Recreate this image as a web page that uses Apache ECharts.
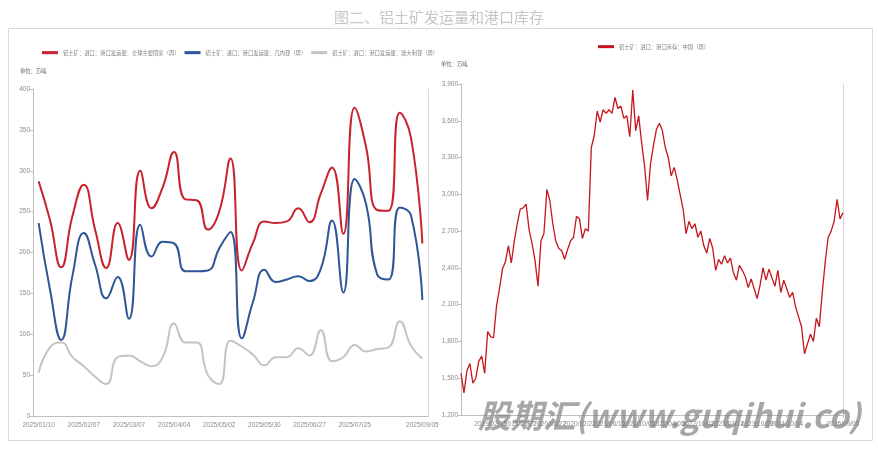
<!DOCTYPE html>
<html><head><meta charset="utf-8">
<script src="https://cdn.jsdelivr.net/npm/echarts@6/dist/echarts.min.js"></script>
<style>html,body{margin:0;padding:0;background:#fff}#c{width:878px;height:451px}</style>
</head><body><div id="c"></div>
<script>
// ---- data ----
const leftCategories = ['2025/01/10','2025/01/17','2025/01/24','2025/01/31','2025/02/07','2025/02/14','2025/02/21','2025/02/28',
  '2025/03/07','2025/03/14','2025/03/21','2025/03/28','2025/04/04','2025/04/11','2025/04/18','2025/04/25',
  '2025/05/02','2025/05/09','2025/05/16','2025/05/23','2025/05/30','2025/06/06','2025/06/13','2025/06/20',
  '2025/06/27','2025/07/04','2025/07/11','2025/07/18','2025/07/25','2025/08/01','2025/08/08','2025/08/15',
  '2025/08/22','2025/08/29','2025/09/05'];
const globalShip = [287,240,182,245,283,228,181,236,191,300,254,280,323,265,264,228,250,315,178,212,238,236,238,254,237,272,304,223,377,330,252,251,371,340,211];
const guineaShip = [236,155,93,172,224,185,144,170,119,234,195,213,211,177,177,178,205,225,95,140,179,164,167,171,165,180,239,151,290,260,173,167,255,245,142];
const australiaShip = [53,84,90,72,61,48,39,72,74,67,61,72,113,90,90,50,39,92,85,75,62,72,72,83,74,105,67,72,87,79,82,84,116,86,70];

const rightTickLabels = ['2018/01/26','2019/02/15','2019/09/27','2020/06/22','2020/12/22','2021/06/15','2021/10/05',
  '2022/04/05','2022/10/02','2023/03/14','2023/10/09','2024/10/04','2025/09/05'];
const chinaPortStock = [
  1540,1380,1560,1620,1460,1500,1640,1680,1540,1880,
  1840,1830,2090,2230,2390,2450,2580,2440,2620,2760,
  2880,2890,2920,2710,2600,2460,2250,2620,2680,3040,
  2950,2760,2620,2560,2540,2470,2550,2620,2650,2820,
  2800,2640,2720,2700,3380,3480,3680,3590,3690,3660,
  3690,3660,3790,3700,3720,3620,3640,3470,3850,3520,
  3640,3420,3230,2950,3250,3400,3530,3580,3520,3380,
  3300,3150,3220,3120,3000,2880,2680,2780,2720,2760,
  2650,2700,2580,2520,2640,2560,2380,2470,2430,2500,
  2440,2480,2360,2300,2420,2380,2330,2240,2310,2230,
  2150,2260,2400,2300,2390,2320,2250,2380,2200,2300,
  2230,2160,2200,2080,2000,1920,1700,1780,1860,1800,
  1990,1920,2200,2450,2650,2700,2780,2960,2800,2850];

const names = ['铝土矿：进口：港口发运量：全球主要国家（周）','铝土矿：进口：港口发运量：几内亚（周）','铝土矿：进口：港口发运量：澳大利亚（周）'];
const rightName = '铝土矿：进口：港口库存：中国（周）';

// ---- styling ----
const NARROW = "'Liberation Sans Narrow','Liberation Sans',Arial,sans-serif";
const CJK = "'Noto Sans CJK SC','Noto Sans',sans-serif";
const axisGray = '#bfbfbf';
const labelGray = '#8c8c8c';
const RED = '#c8232c', BLUE = '#2d5597', GRAY = '#c4c4c4', RRED = '#c4161c';

const RSTEP = 10;
const lastR = chinaPortStock.length - 1;
const rightLabelAt = {};
rightTickLabels.forEach((t, j) => {
  const idx = j < rightTickLabels.length - 1 ? j * RSTEP : lastR;
  rightLabelAt[idx] = t;
});
const rightCategories = chinaPortStock.map((_, i) => String(i));

const chart = echarts.init(document.getElementById('c'), null, {renderer: 'canvas'});
const legendText = {fontSize: 5.3, color: '#7f7f7f', fontFamily: CJK};
const lineSeries = (name, data, color) => ({
  name, type: 'line', xAxisIndex: 0, yAxisIndex: 0, data, smooth: 0.5,
  showSymbol: false, symbol: 'none', lineStyle: {width: 2, color}, itemStyle: {color}
});
chart.setOption({
  animation: false,
  backgroundColor: '#fff',
  title: {text: '图二、铝土矿发运量和港口库存', left: 'center', top: 5,
    textStyle: {color: '#c6c6c6', fontSize: 15, fontWeight: 'normal', fontFamily: CJK}},
  legend: [
    {data: names, left: 37, top: 45, itemWidth: 16, itemHeight: 3, icon: 'rect', itemGap: 5, textStyle: legendText},
    {data: [rightName], left: 593, top: 39, itemWidth: 16, itemHeight: 3, icon: 'rect', textStyle: legendText}
  ],
  grid: [
    {left: 33, right: 450, top: 89, bottom: 35},
    {left: 461, right: 35, top: 84, bottom: 36}
  ],
  xAxis: [
    {type: 'category', gridIndex: 0, data: leftCategories, boundaryGap: true,
      axisLine: {lineStyle: {color: axisGray}},
      axisTick: {interval: (i) => i % 4 === 0, length: 3, lineStyle: {color: axisGray}},
      axisLabel: {interval: (i) => (i % 4 === 0 && i < 32) || i === leftCategories.length - 1,
        fontSize: 6.5, color: labelGray, fontFamily: NARROW, margin: 6}},
    {type: 'category', gridIndex: 1, data: rightCategories, boundaryGap: false,
      axisLine: {lineStyle: {color: axisGray}},
      axisTick: {interval: (i) => i % RSTEP === 0 || i === lastR, length: 3, lineStyle: {color: axisGray}},
      axisLabel: {interval: (i) => rightLabelAt[i] !== undefined, formatter: (v, i) => rightLabelAt[i] || '',
        fontSize: 6.5, color: labelGray, fontFamily: NARROW, margin: 6}}
  ],
  yAxis: [
    {type: 'value', gridIndex: 0, min: 0, max: 400, interval: 50,
      axisLine: {show: true, lineStyle: {color: axisGray}}, axisTick: {show: true, length: 3, lineStyle: {color: axisGray}},
      splitLine: {show: false}, axisLabel: {fontSize: 6.5, color: labelGray, fontFamily: NARROW, margin: 3}},
    {type: 'value', gridIndex: 0, position: 'right', min: 0, max: 400,
      axisLine: {show: true, lineStyle: {color: '#d9d9d9'}}, axisTick: {show: false}, axisLabel: {show: false}, splitLine: {show: false}},
    {type: 'value', gridIndex: 1, min: 1200, max: 3900, interval: 300,
      axisLine: {show: true, lineStyle: {color: axisGray}}, axisTick: {show: true, length: 3, lineStyle: {color: axisGray}},
      splitLine: {show: false}, axisLabel: {fontSize: 6.5, color: labelGray, fontFamily: NARROW, margin: 3,
        formatter: (v) => v.toLocaleString('en-US')}},
    {type: 'value', gridIndex: 1, position: 'right', min: 1200, max: 3900,
      axisLine: {show: true, lineStyle: {color: '#d9d9d9'}}, axisTick: {show: false}, axisLabel: {show: false}, splitLine: {show: false}}
  ],
  series: [
    lineSeries(names[0], globalShip, RED),
    lineSeries(names[1], guineaShip, BLUE),
    lineSeries(names[2], australiaShip, GRAY),
    {name: rightName, type: 'line', xAxisIndex: 1, yAxisIndex: 2, data: chinaPortStock,
      showSymbol: false, symbol: 'none', lineStyle: {width: 1.3, color: RRED}, itemStyle: {color: RRED}}
  ],
  graphic: [
    {type: 'rect', shape: {x: 8.5, y: 28.5, width: 864, height: 412}, style: {fill: 'none', stroke: '#d9d9d9', lineWidth: 1}, z: -10, silent: true},
    {type: 'text', left: 20, top: 68, style: {text: '单位：万吨', fontSize: 5.3, fill: '#595959', fontFamily: CJK}},
    {type: 'text', left: 441, top: 61, style: {text: '单位：万吨', fontSize: 5.3, fill: '#595959', fontFamily: CJK}},
    {type: 'text', left: 478, top: 399, z: 100, silent: true,
      style: {text: '股期汇(www.guqihui.co)', fontSize: 32.5, fontWeight: 'bold', fontStyle: 'italic',
        fontFamily: CJK, fill: 'rgba(130,130,130,0.7)'}}
  ]
});
</script>
</body></html>
